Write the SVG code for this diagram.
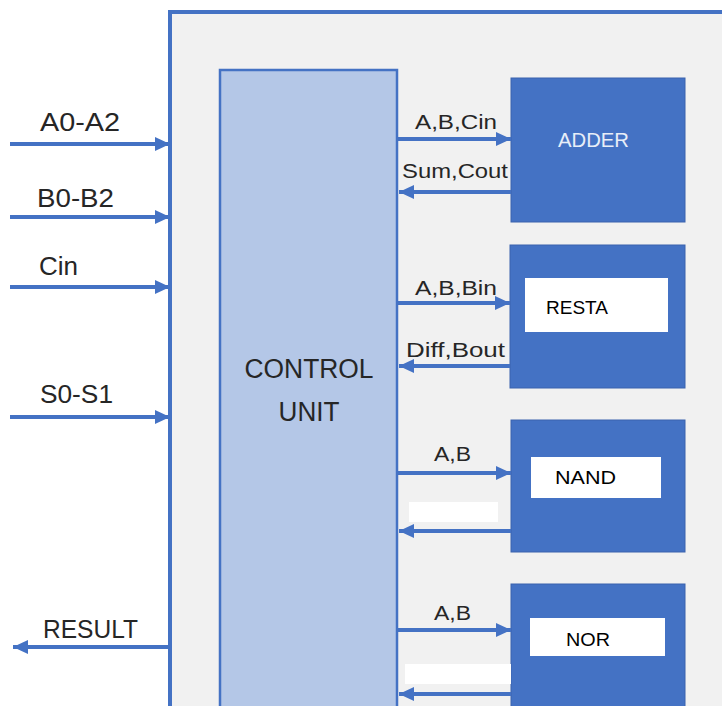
<svg xmlns="http://www.w3.org/2000/svg" width="722" height="706" viewBox="0 0 722 706">
<style>
  .lbl { font-family: "Liberation Sans", Arial, sans-serif; fill: #262626; }
  .big { font-size: 26px; }
  .sm { font-size: 20px; }
  .wire { stroke: #4472c4; stroke-width: 4; fill: none; }
  .unit { fill: #4472c4; stroke: #3a63ae; stroke-width: 1; }
  .tag { fill: #ffffff; }
  .name { font-family: "Liberation Sans", Arial, sans-serif; font-size: 19px; fill: #000000; }
</style>
<defs>
  <marker id="ah" markerUnits="userSpaceOnUse" markerWidth="16" markerHeight="14" refX="15" refY="7" orient="auto">
    <path d="M0,0 L15,7 L0,14 Z" fill="#4472c4"/>
  </marker>
</defs>
<rect x="0" y="0" width="722" height="706" fill="#ffffff"/>
<g id="system">
  <rect x="170" y="12" width="620" height="760" fill="#f1f1f1" stroke="#4472c4" stroke-width="4"/>
</g>
<g id="control-unit">
  <rect x="220" y="70" width="177" height="700" fill="#b4c7e7" stroke="#4472c4" stroke-width="2.5"/>
  <text class="lbl" x="309" y="378" font-size="27" text-anchor="middle" textLength="129" lengthAdjust="spacingAndGlyphs">CONTROL</text>
  <text class="lbl" x="309" y="421" font-size="27" text-anchor="middle" textLength="61" lengthAdjust="spacingAndGlyphs">UNIT</text>
</g>
<g id="adder">
  <rect class="unit" x="511" y="78" width="174" height="144"/>
  <text x="558" y="147" font-family="'Liberation Sans', Arial, sans-serif" font-size="20" fill="#e8eef8" textLength="71" lengthAdjust="spacingAndGlyphs">ADDER</text>
</g>
<g id="resta">
  <rect class="unit" x="510" y="245" width="175" height="143"/>
  <rect class="tag" x="525" y="278" width="143" height="54"/>
  <text class="name" x="546" y="314" textLength="62" lengthAdjust="spacingAndGlyphs">RESTA</text>
</g>
<g id="nand">
  <rect class="unit" x="511" y="420" width="174" height="132"/>
  <rect class="tag" x="531" y="457" width="130" height="41"/>
  <text class="name" x="555" y="484" textLength="61" lengthAdjust="spacingAndGlyphs">NAND</text>
</g>
<g id="nor">
  <rect class="unit" x="511" y="584" width="174" height="140"/>
  <rect class="tag" x="530" y="618" width="135" height="38"/>
  <text class="name" x="566" y="646" textLength="44" lengthAdjust="spacingAndGlyphs">NOR</text>
</g>
<g id="connectors">
  <line class="wire" x1="10" y1="144" x2="170" y2="144" marker-end="url(#ah)"/>
  <line class="wire" x1="10" y1="217" x2="170" y2="217" marker-end="url(#ah)"/>
  <line class="wire" x1="10" y1="287" x2="170" y2="287" marker-end="url(#ah)"/>
  <line class="wire" x1="10" y1="417" x2="170" y2="417" marker-end="url(#ah)"/>
  <line class="wire" x1="170" y1="647" x2="13" y2="647" marker-end="url(#ah)"/>

  <line class="wire" x1="398" y1="139" x2="511" y2="139" marker-end="url(#ah)"/>
  <line class="wire" x1="511" y1="192" x2="399" y2="192" marker-end="url(#ah)"/>
  <line class="wire" x1="398" y1="303" x2="510" y2="303" marker-end="url(#ah)"/>
  <line class="wire" x1="510" y1="366" x2="399" y2="366" marker-end="url(#ah)"/>
  <line class="wire" x1="398" y1="473" x2="511" y2="473" marker-end="url(#ah)"/>
  <line class="wire" x1="511" y1="531" x2="399" y2="531" marker-end="url(#ah)"/>
  <line class="wire" x1="398" y1="630" x2="511" y2="630" marker-end="url(#ah)"/>
  <line class="wire" x1="511" y1="694" x2="399" y2="694" marker-end="url(#ah)"/>

  <rect x="409" y="502" width="89" height="20" fill="#ffffff"/>
  <rect x="405" y="664" width="106" height="20" fill="#ffffff"/>
</g>
<g id="labels">
  <text class="lbl big" x="40" y="131" textLength="80" lengthAdjust="spacingAndGlyphs">A0-A2</text>
  <text class="lbl big" x="37" y="207" textLength="77" lengthAdjust="spacingAndGlyphs">B0-B2</text>
  <text class="lbl big" x="39" y="275" textLength="39" lengthAdjust="spacingAndGlyphs">Cin</text>
  <text class="lbl big" x="40" y="403" textLength="73" lengthAdjust="spacingAndGlyphs">S0-S1</text>
  <text class="lbl big" x="43" y="638" textLength="95" lengthAdjust="spacingAndGlyphs">RESULT</text>

  <text class="lbl sm" x="415" y="129" textLength="82" lengthAdjust="spacingAndGlyphs">A,B,Cin</text>
  <text class="lbl sm" x="402" y="178" textLength="106" lengthAdjust="spacingAndGlyphs">Sum,Cout</text>
  <text class="lbl sm" x="415" y="295" textLength="82" lengthAdjust="spacingAndGlyphs">A,B,Bin</text>
  <text class="lbl sm" x="406" y="357" textLength="99" lengthAdjust="spacingAndGlyphs">Diff,Bout</text>
  <text class="lbl sm" x="434" y="461" textLength="37" lengthAdjust="spacingAndGlyphs">A,B</text>
  <text class="lbl sm" x="434" y="620" textLength="37" lengthAdjust="spacingAndGlyphs">A,B</text>
</g>
</svg>
